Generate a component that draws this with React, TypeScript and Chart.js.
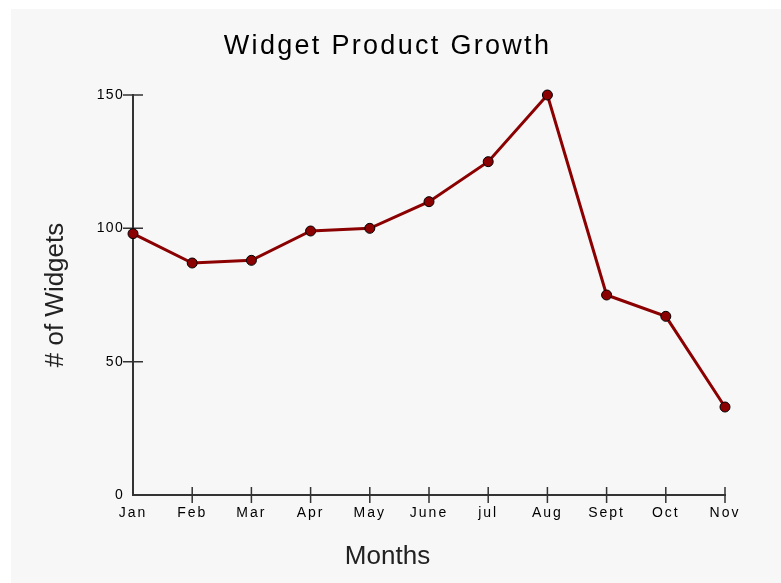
import React, { useEffect, useRef } from 'react';
import { Chart, registerables } from 'chart.js';

Chart.register(...registerables);

const months = ['Jan', 'Feb', 'Mar', 'Apr', 'May', 'June', 'jul', 'Aug', 'Sept', 'Oct', 'Nov'];
const widgets = [98, 87, 88, 99, 100, 110, 125, 150, 75, 67, 33];
const yMin = 0;
const yMax = 150;
const yStep = 50;

const FONT = "'Liberation Sans', Arial, Helvetica, sans-serif";

const tickMarks = {
  id: 'tickMarks',
  beforeDatasetsDraw(chart: any) {
    const { ctx, chartArea, scales } = chart;
    const x = scales.x;
    const y = scales.y;
    ctx.save();
    ctx.strokeStyle = '#333';
    ctx.lineWidth = 1.5;
    ctx.beginPath();
    y.ticks.forEach((t: any, i: number) => {
      if (t.value === 0) return;
      const py = y.getPixelForTick(i);
      ctx.moveTo(chartArea.left - 10, py);
      ctx.lineTo(chartArea.left + 10, py);
    });
    x.ticks.forEach((_t: any, i: number) => {
      if (i === 0) return;
      const px = x.getPixelForTick(i);
      ctx.moveTo(px, chartArea.bottom - 8);
      ctx.lineTo(px, chartArea.bottom + 8);
    });
    ctx.stroke();
    ctx.restore();
  },
};

const spacing = {
  id: 'spacing',
  beforeDraw(chart: any) {
    const patch = (obj: any, key: string, ls: string) => {
      if (!obj || obj.__lsPatched) return;
      const orig = obj[key].bind(obj);
      obj[key] = (...args: any[]) => {
        const c = chart.ctx;
        c.save();
        c.letterSpacing = ls;
        orig(...args);
        c.restore();
      };
      obj.__lsPatched = true;
    };
    patch(chart.scales.x, 'drawLabels', '2px');
    patch(chart.scales.y, 'drawLabels', '1.3px');
    patch(chart.titleBlock, 'draw', '2.3px');
  },
};

export default function App() {
  const ref = useRef<HTMLCanvasElement | null>(null);

  useEffect(() => {
    if (!ref.current) return;
    const chart = new Chart(ref.current, {
      type: 'line',
      data: {
        labels: months,
        datasets: [
          {
            label: '# of Widgets',
            data: widgets,
            borderColor: '#8b0000',
            borderWidth: 3,
            backgroundColor: '#8b0000',
            pointBackgroundColor: '#8b0000',
            pointBorderColor: '#000',
            pointBorderWidth: 1,
            pointRadius: 5,
            tension: 0,
            fill: false,
            clip: false,
          },
        ],
      },
      options: {
        animation: false,
        responsive: false,
        devicePixelRatio: 1,
        layout: { padding: { left: 0, right: 17, top: 0, bottom: 0 } },
        plugins: {
          legend: { display: false },
          tooltip: { enabled: false },
          title: {
            display: true,
            text: 'Widget Product Growth',
            color: '#000',
            font: { family: FONT, size: 27, weight: 'normal' },
            padding: { top: 21, bottom: 32.6 },
          },
          subtitle: {
            display: true,
            text: 'Months',
            position: 'bottom',
            color: '#222',
            font: { family: FONT, size: 26, weight: 'normal' },
            padding: { top: 6.4, bottom: 10.4 },
          },
        },
        scales: {
          x: {
            type: 'category',
            offset: false,
            grid: { display: false, drawTicks: false },
            border: { display: true, color: '#333', width: 2 },
            ticks: {
              color: '#000',
              font: { family: FONT, size: 14 },
              padding: 10,
              maxRotation: 0,
              autoSkip: false,
            },
            afterFit: (s: any) => {
              s.height = 40;
            },
          },
          y: {
            type: 'linear',
            position: 'left',
            min: yMin,
            max: yMax,
            grid: { display: false, drawTicks: false },
            border: { display: true, color: '#333', width: 2 },
            ticks: {
              stepSize: yStep,
              color: '#000',
              font: { family: FONT, size: 14 },
              padding: 9,
            },
            title: {
              display: true,
              text: '# of Widgets',
              color: '#222',
              font: { family: FONT, size: 26, weight: 'normal' },
              padding: { top: 29, bottom: 0 },
            },
            afterFit: (s: any) => {
              s.width = 122;
            },
          },
          yR: {
            type: 'linear',
            position: 'right',
            display: true,
            grid: { display: false, drawTicks: false },
            border: { display: false },
            ticks: { display: false },
            afterFit: (s: any) => {
              s.width = 39;
            },
          },
        },
      } as any,
      plugins: [tickMarks, spacing],
    });
    return () => chart.destroy();
  }, []);

  return (
    <div
      style={{
        position: 'absolute',
        left: 11,
        top: 9,
        width: 770,
        height: 574,
        background: '#f7f7f7',
      }}
    >
      <canvas ref={ref} width={770} height={574} style={{ display: 'block', width: 770, height: 574 }} />
    </div>
  );
}
